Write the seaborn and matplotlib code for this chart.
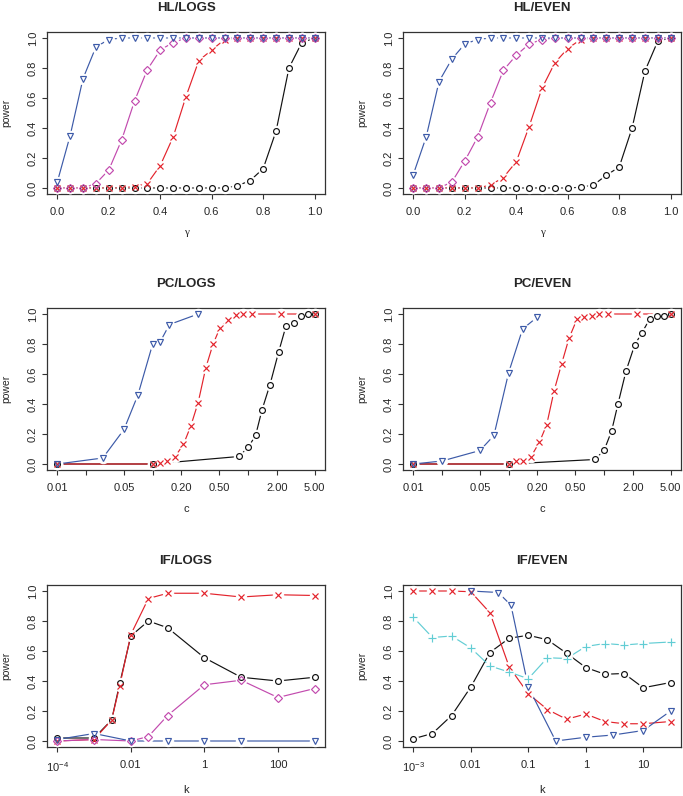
import numpy as np
import pandas as pd
import matplotlib
matplotlib.use('Agg')
import matplotlib.pyplot as plt
from matplotlib.ticker import NullLocator
import seaborn as sns

# ---- data ----
gamma = [0.0, 0.05, 0.1, 0.15, 0.2, 0.25, 0.3, 0.35, 0.4, 0.45, 0.5,
         0.55, 0.6, 0.65, 0.7, 0.75, 0.8, 0.85, 0.9, 0.95, 1.0]

hl_logs_tri = [0.04, 0.35, 0.73, 0.94, 0.99, 1, 1, 1, 1, 1, 1, 1, 1, 1, 1, 1, 1, 1, 1, 1, 1]
hl_logs_dia = [0, 0, 0, 0.03, 0.12, 0.32, 0.58, 0.79, 0.92, 0.97, 1.0, 1, 1, 1, 1, 1, 1, 1, 1, 1, 1]
hl_logs_x = [0, 0, 0, 0, 0, 0, 0.01, 0.03, 0.15, 0.34, 0.61, 0.85, 0.92, 0.99, 1, 1, 1, 1, 1, 1, 1]
hl_logs_o = [0, 0, 0, 0, 0, 0, 0, 0, 0, 0, 0, 0, 0, 0, 0.015, 0.05, 0.13, 0.38, 0.80, 0.97, 1.0]

hl_even_tri = [0.09, 0.34, 0.71, 0.86, 0.96, 0.99, 1, 1, 1, 1, 1, 1, 1, 1, 1, 1, 1, 1, 1, 1, 1]
hl_even_dia = [0, 0, 0, 0.04, 0.18, 0.34, 0.57, 0.785, 0.885, 0.96, 0.99, 1, 1, 1, 1, 1, 1, 1, 1, 1, 1]
hl_even_x = [0, 0, 0, 0, 0, 0, 0.02, 0.07, 0.175, 0.41, 0.665, 0.835, 0.93, 0.99, 1, 1, 1, 1, 1, 1, 1]
hl_even_o = [0, 0, 0, 0, 0, 0, 0, 0, 0, 0, 0, 0, 0, 0.005, 0.02, 0.085, 0.14, 0.40, 0.78, 0.98, 1.0]

pc_logs_tri_c = [0.01, 0.03, 0.05, 0.07, 0.1, 0.12, 0.15, 0.3]
pc_logs_tri = [0, 0.04, 0.23, 0.46, 0.80, 0.815, 0.93, 1.0]
pc_logs_x_c = [0.01, 0.1, 0.12, 0.14, 0.17, 0.21, 0.25, 0.3, 0.36, 0.43, 0.51, 0.62, 0.74, 0.89, 1.1, 2.2, 5.0]
pc_logs_x = [0, 0, 0.005, 0.02, 0.045, 0.13, 0.25, 0.41, 0.64, 0.80, 0.91, 0.96, 0.995, 1.0, 1.0, 1.0, 1.0]
pc_logs_o_c = [0.01, 0.1, 0.8, 1.0, 1.2, 1.4, 1.7, 2.1, 2.5, 3.0, 3.6, 4.3, 5.0]
pc_logs_o = [0, 0, 0.05, 0.11, 0.19, 0.36, 0.53, 0.75, 0.92, 0.94, 0.99, 1.0, 1.0]

pc_even_tri_c = [0.01, 0.02, 0.05, 0.07, 0.1, 0.14, 0.2]
pc_even_tri = [0, 0.02, 0.09, 0.19, 0.61, 0.90, 0.98]
pc_even_x_c = [0.01, 0.1, 0.12, 0.14, 0.17, 0.21, 0.25, 0.3, 0.36, 0.43, 0.52, 0.62, 0.74, 0.89, 1.1, 2.2, 5.0]
pc_even_x = [0, 0, 0.02, 0.02, 0.045, 0.145, 0.26, 0.49, 0.67, 0.84, 0.965, 0.98, 0.985, 1.0, 1.0, 1.0, 1.0]
pc_even_o_c = [0.01, 0.1, 0.8, 1.0, 1.2, 1.4, 1.7, 2.1, 2.5, 3.0, 3.6, 4.3, 5.0]
pc_even_o = [0, 0, 0.03, 0.09, 0.22, 0.40, 0.62, 0.795, 0.875, 0.965, 0.985, 0.99, 1.0]

if_logs_k = [1e-4, 1e-3, 0.003, 0.005, 0.01, 0.03, 0.1, 1, 10, 100, 1000]
if_logs_x = [0.0, 0.01, 0.14, 0.37, 0.71, 0.95, 0.985, 0.985, 0.96, 0.975, 0.97]
if_logs_o = [0.02, 0.02, 0.14, 0.385, 0.70, 0.80, 0.755, 0.555, 0.425, 0.40, 0.425]
if_logs_dia_k = [1e-4, 1e-3, 0.01, 0.03, 0.1, 1, 10, 100, 1000]
if_logs_dia = [0.0, 0.01, 0.0, 0.03, 0.17, 0.375, 0.405, 0.29, 0.35]
if_logs_tri_k = [1e-4, 1e-3, 0.01, 0.1, 1, 10, 1000]
if_logs_tri = [0.01, 0.05, 0.0, 0.0, 0.0, 0.0, 0.0]

if_even_k = [0.001, 0.00215, 0.00464, 0.01, 0.0215, 0.0464, 0.1, 0.215, 0.464, 1, 2.15, 4.64, 10, 30]
if_even_x = [1.0, 1.0, 1.0, 0.995, 0.855, 0.495, 0.315, 0.21, 0.145, 0.18, 0.13, 0.115, 0.115, 0.13]
if_even_plus = [0.825, 0.69, 0.70, 0.62, 0.50, 0.46, 0.415, 0.555, 0.55, 0.63, 0.65, 0.64, 0.65, 0.66]
if_even_o = [0.015, 0.05, 0.17, 0.36, 0.59, 0.685, 0.705, 0.675, 0.585, 0.49, 0.445, 0.45, 0.355, 0.39]
if_even_tri_k = [0.01, 0.03, 0.05, 0.1, 0.3, 1, 3, 10, 30]
if_even_tri = [1.0, 0.99, 0.905, 0.36, 0.0, 0.025, 0.04, 0.07, 0.20]

y_ticks = [0.0, 0.2, 0.4, 0.6, 0.8, 1.0]
y_labels = ['0.0', '0.2', '0.4', '0.6', '0.8', '1.0']
hl_ticks = [0.0, 0.2, 0.4, 0.6, 0.8, 1.0]
hl_labels = ['0.0', '0.2', '0.4', '0.6', '0.8', '1.0']
pc_ticks = [0.01, 0.02, 0.05, 0.1, 0.2, 0.5, 1, 2, 5]
pc_labels = ['0.01', '', '0.05', '', '0.20', '0.50', '', '2.00', '5.00']
if_logs_ticks = [1e-4, 0.01, 1, 100]
if_logs_labels = ['10$^{-4}$', '0.01', '1', '100']
if_even_ticks = [1e-3, 0.01, 0.1, 1, 10]
if_even_labels = ['10$^{-3}$', '0.01', '0.1', '1', '10']

BLACK = '#111111'
RED = '#e3232c'
BLUE = '#3c5aa8'
MAGENTA = '#c24aae'
CYAN = '#62cdd4'

MSIZE = {'o': 4.2, 'v': 5.0, 'D': 4.0, 'x': 4.5, '+': 6.0}

sns.set_style('ticks')
plt.rcParams['font.family'] = ['Liberation Sans', 'DejaVu Sans']
plt.rcParams['mathtext.fontset'] = 'custom'
plt.rcParams['mathtext.rm'] = 'Liberation Sans'
plt.rcParams['mathtext.it'] = 'Liberation Sans'


def draw_panel(ax, series):
    """R style type='b': lines with gaps around the open points"""
    for x, y, color, marker in series:
        sns.lineplot(x=x, y=y, ax=ax, color=color, lw=0.85, estimator=None,
                     legend=False, zorder=2)
    for x, y, color, marker in series:
        sns.lineplot(x=x, y=y, ax=ax, color='white', linestyle='', marker='o',
                     markersize=7.5, markerfacecolor='white', markeredgecolor='white',
                     estimator=None, legend=False, zorder=3)
    for x, y, color, marker in series:
        sns.lineplot(x=x, y=y, ax=ax, color=color, linestyle='', marker=marker,
                     markersize=MSIZE[marker], markerfacecolor='none',
                     markeredgecolor=color, markeredgewidth=0.85,
                     estimator=None, legend=False, zorder=4)


def style_axes(ax, title, xlabel, xticks, xlabels, xlim, logx=False, xlabel_serif=False):
    if logx:
        ax.set_xscale('log')
    ax.set_xlim(*xlim)
    ax.set_ylim(-0.04, 1.04)
    ax.set_xticks(xticks)
    ax.set_xticklabels(xlabels, fontsize=8)
    ax.xaxis.set_minor_locator(NullLocator())
    ax.set_yticks(y_ticks)
    ax.set_yticklabels(y_labels, fontsize=8, rotation=90, va='center')
    ax.tick_params(axis='both', direction='out', length=3.5, width=0.8, color='#333333')
    ax.tick_params(axis='x', pad=6)
    ax.tick_params(axis='y', pad=3)
    for sp in ax.spines.values():
        sp.set_visible(True)
        sp.set_linewidth(0.9)
        sp.set_color('#333333')
    ax.set_title(title, fontsize=9.5, fontweight='bold', pad=15)
    if xlabel_serif:
        ax.set_xlabel(xlabel, fontsize=8, labelpad=8, family=['Liberation Serif', 'DejaVu Serif'])
    else:
        ax.set_xlabel(xlabel, fontsize=8, labelpad=8)
    ax.set_ylabel('power', fontsize=7.5, labelpad=12)
    ax.grid(False)


fig = plt.figure(figsize=(6.83, 7.96), dpi=100)
W, H = 683, 796
col_left = [47, 403]
row_top = [32, 308, 585]
box_w, box_h = 278, 162


def make_ax(r, c):
    l = col_left[c] / W
    b = 1 - (row_top[r] + box_h) / H
    return fig.add_axes([l, b, box_w / W, box_h / H])


ax = make_ax(0, 0)
draw_panel(ax, [(gamma, hl_logs_o, BLACK, 'o'), (gamma, hl_logs_x, RED, 'x'),
                (gamma, hl_logs_dia, MAGENTA, 'D'), (gamma, hl_logs_tri, BLUE, 'v')])
style_axes(ax, 'HL/LOGS', 'γ', hl_ticks, hl_labels, (-0.04, 1.04), xlabel_serif=True)

ax = make_ax(0, 1)
draw_panel(ax, [(gamma, hl_even_o, BLACK, 'o'), (gamma, hl_even_x, RED, 'x'),
                (gamma, hl_even_dia, MAGENTA, 'D'), (gamma, hl_even_tri, BLUE, 'v')])
style_axes(ax, 'HL/EVEN', 'γ', hl_ticks, hl_labels, (-0.04, 1.04), xlabel_serif=True)

pc_lim = (10 ** (-2 - 0.108), 10 ** (np.log10(5) + 0.108))

ax = make_ax(1, 0)
draw_panel(ax, [(pc_logs_o_c, pc_logs_o, BLACK, 'o'), (pc_logs_x_c, pc_logs_x, RED, 'x'),
                (pc_logs_tri_c, pc_logs_tri, BLUE, 'v')])
style_axes(ax, 'PC/LOGS', 'c', pc_ticks, pc_labels, pc_lim, logx=True)

ax = make_ax(1, 1)
draw_panel(ax, [(pc_even_o_c, pc_even_o, BLACK, 'o'), (pc_even_x_c, pc_even_x, RED, 'x'),
                (pc_even_tri_c, pc_even_tri, BLUE, 'v')])
style_axes(ax, 'PC/EVEN', 'c', pc_ticks, pc_labels, pc_lim, logx=True)

ax = make_ax(2, 0)
draw_panel(ax, [(if_logs_k, if_logs_o, BLACK, 'o'), (if_logs_k, if_logs_x, RED, 'x'),
                (if_logs_dia_k, if_logs_dia, MAGENTA, 'D'), (if_logs_tri_k, if_logs_tri, BLUE, 'v')])
style_axes(ax, 'IF/LOGS', 'k', if_logs_ticks, if_logs_labels, (10 ** -4.28, 10 ** 3.28), logx=True)

ax = make_ax(2, 1)
draw_panel(ax, [(if_even_k, if_even_o, BLACK, 'o'), (if_even_k, if_even_x, RED, 'x'),
                (if_even_tri_k, if_even_tri, BLUE, 'v'), (if_even_k, if_even_plus, CYAN, '+')])
style_axes(ax, 'IF/EVEN', 'k', if_even_ticks, if_even_labels,
           (10 ** -3.18, 10 ** (np.log10(30) + 0.18)), logx=True)

fig.savefig('out.png', dpi=100, facecolor='white')
